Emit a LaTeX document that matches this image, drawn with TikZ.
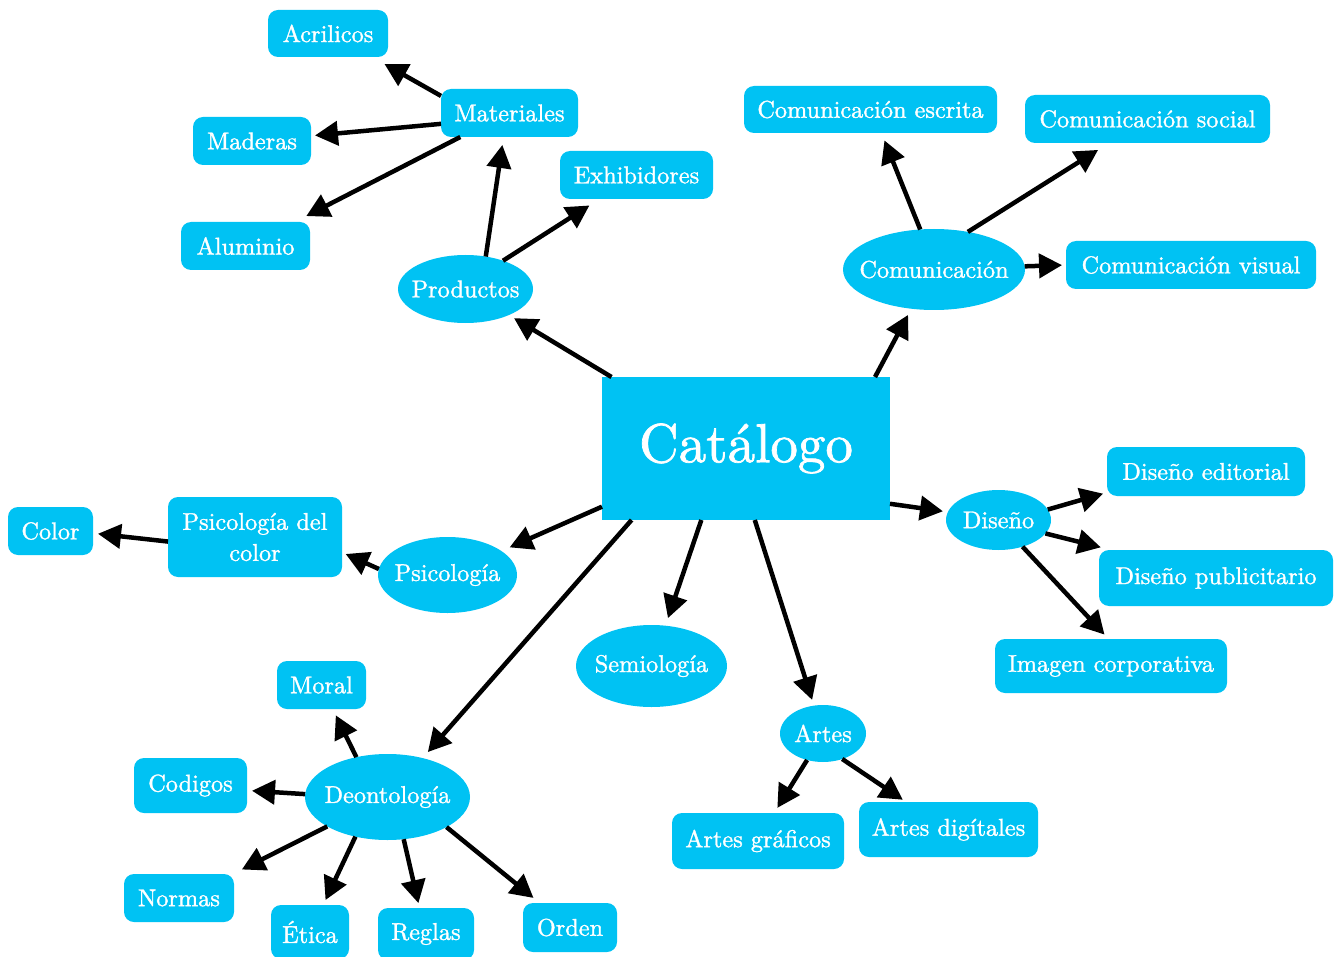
\documentclass[tikz,border=0pt]{standalone}
\usepackage{fontspec}
\setmainfont{lmroman10-regular.otf}[FakeBold=1.3]
\usetikzlibrary{arrows.meta,shapes.geometric}
\definecolor{cyanbox}{RGB}{0,194,243}
\tikzset{
  base/.style={fill=cyanbox, text=white, inner sep=0pt, outer sep=0pt, font=\fontsize{24.3}{31}\selectfont},
  rbox/.style={base, rectangle, rounded corners=10pt},
  ebox/.style={base, ellipse},
  arr/.style={line width=4.5pt, -{Triangle[length=23pt,width=24pt]}},
}
\begin{document}
\begin{tikzpicture}[x=1pt,y=-1pt]
\useasboundingbox (0,0) rectangle (1340,957);
% central
\node[base, rectangle, minimum width=288pt, minimum height=143pt, font=\fontsize{55}{60}\selectfont] (cat) at (746,448.5) {Catálogo};
% Productos branch
\node[ebox, minimum width=135pt, minimum height=68pt] (prod) at (465.5,289) {\makebox[0pt]{Productos}};
\node[rbox, minimum width=137pt, minimum height=48pt] (mat) at (509.5,113) {Materiales};
\node[rbox, minimum width=120pt, minimum height=47pt] (acr) at (328,33.5) {Acrilicos};
\node[rbox, minimum width=118pt, minimum height=48pt] (mad) at (252,141) {Maderas};
\node[rbox, minimum width=129pt, minimum height=48pt] (alu) at (245.5,246) {Aluminio};
\node[rbox, minimum width=153pt, minimum height=48pt] (exh) at (636.5,175) {Exhibidores};
% Comunicacion branch
\node[ebox, minimum width=182pt, minimum height=81pt] (com) at (934,269.5) {\makebox[0pt]{Comunicación}};
\node[rbox, minimum width=253pt, minimum height=47pt] (ces) at (870.5,109.5) {Comunicación escrita};
\node[rbox, minimum width=245pt, minimum height=48pt] (cso) at (1147.5,119) {Comunicación social};
\node[rbox, minimum width=250pt, minimum height=48pt] (cvi) at (1191,265) {Comunicación visual};
% Diseno branch
\node[ebox, minimum width=105pt, minimum height=60pt] (dis) at (998.5,520) {\makebox[0pt]{Diseño}};
\node[rbox, minimum width=198pt, minimum height=49pt] (ded) at (1206,471.5) {Diseño editorial};
\node[rbox, minimum width=234pt, minimum height=56pt] (dpu) at (1216,578) {Diseño publicitario};
\node[rbox, minimum width=232pt, minimum height=54pt] (imc) at (1111,666) {Imagen corporativa};
% Psicologia branch
\node[ebox, minimum width=139pt, minimum height=76pt] (psi) at (447.5,575) {\makebox[0pt]{Psicología}};
\node[rbox, minimum width=174pt, minimum height=80pt, align=center] (psc) at (255,537) {Psicología del\\color};
\node[rbox, minimum width=85pt, minimum height=48pt] (col) at (50.5,531) {Color};
% Semiologia
\node[ebox, minimum width=151pt, minimum height=82pt] (sem) at (651.5,666) {\makebox[0pt]{Semiología}};
% Artes
\node[ebox, minimum width=86pt, minimum height=57pt] (art) at (823,733.5) {\makebox[0pt]{Artes}};
\node[rbox, minimum width=172pt, minimum height=56pt] (agr) at (758,841) {Artes gráficos};
\node[rbox, minimum width=179pt, minimum height=55pt] (adi) at (948.5,829.5) {Artes digítales};
% Deontologia
\node[ebox, minimum width=165pt, minimum height=86pt] (deo) at (387.5,797) {\makebox[0pt]{Deontología}};
\node[rbox, minimum width=89pt, minimum height=48pt] (mor) at (321.5,685) {Moral};
\node[rbox, minimum width=113pt, minimum height=55pt] (cod) at (190.5,785.5) {Codigos};
\node[rbox, minimum width=110pt, minimum height=48pt] (nor) at (179,898) {Normas};
\node[rbox, minimum width=78pt, minimum height=54pt] (eti) at (310,932) {Ética};
\node[rbox, minimum width=96pt, minimum height=52pt] (reg) at (426,934) {Reglas};
\node[rbox, minimum width=94pt, minimum height=49pt] (ord) at (570,927.5) {Orden};
% connectors
\draw[arr, shorten >=6pt] (cat.152.4) -- (prod.329.6);
\draw[arr, shorten >=8pt] (prod.58.4) -- (mat.256.8);
\draw[arr, shorten >=12pt] (prod.37.4) -- (exh.213.7);
\draw[arr, shorten >=14pt] (mat.166.7) -- (acr.332.3);
\draw[arr, shorten >=4pt] (mat.189.1) -- (mad.5.4);
\draw[arr, shorten >=13pt] (mat.206.8) -- (alu.26.8);
\draw[arr, shorten >=7pt] (cat.29.4) -- (com.240.3);
\draw[arr, shorten >=8pt] (com.109) -- (ces.295.4);
\draw[arr, shorten >=13pt] (com.48.5) -- (cso.212.6);
\draw[arr, shorten >=4pt] (com.2.8) -- (cvi.180);
\draw[arr, shorten >=5pt] (cat.339.3) -- (dis.171.8);
\draw[arr, shorten >=4pt] (dis.12.5) -- (ded.192.3);
\draw[arr, shorten >=11pt] (dis.344.7) -- (dpu.165.5);
\draw[arr, shorten >=6pt] (dis.312.2) -- (imc.95.2);
\draw[arr, shorten >=9pt] (cat.202.5) -- (psi.24.5);
\draw[arr, shorten >=4pt] (psi.175.8) -- (psc.350.6);
\draw[arr, shorten >=5pt] (psc.183.3) -- (col.357.6);
\draw[arr, shorten >=8pt] (cat.238.2) -- (sem.71);
\draw[arr, shorten >=6pt] (cat.277.9) -- (art.108.2);
\draw[arr, shorten >=8pt] (cat.212.5) -- (deo.48.7);
\draw[arr, shorten >=6pt] (art.239.2) -- (agr.60.1);
\draw[arr, shorten >=4pt] (art.307) -- (adi.147.6);
\draw[arr, shorten >=7pt] (deo.128.2) -- (mor.295.8);
\draw[arr, shorten >=5pt] (deo.178.6) -- (cod.355.8);
\draw[arr, shorten >=10pt] (deo.206.8) -- (nor.24.7);
\draw[arr, shorten >=5.5pt] (deo.231.8) -- (eti.64.5);
\draw[arr, shorten >=5pt] (deo.291) -- (reg.104.9);
\draw[arr, shorten >=8pt] (deo.333.6) -- (ord.141.4);
\end{tikzpicture}
\end{document}
